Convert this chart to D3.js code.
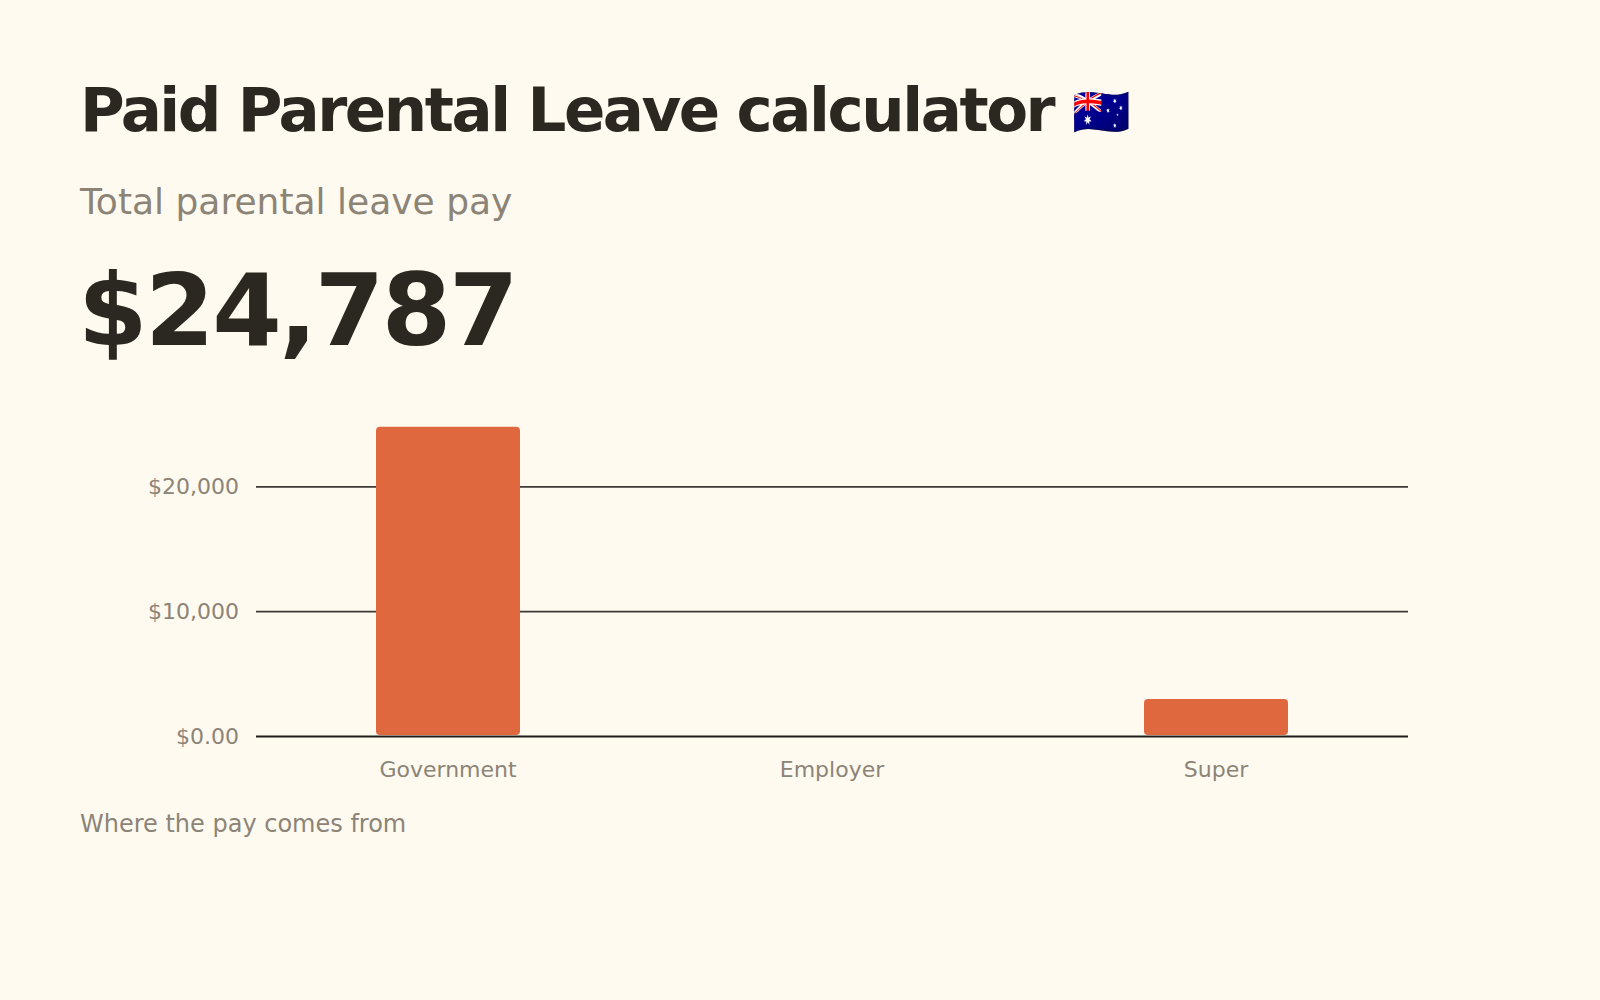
<!DOCTYPE html>
<html>
<head>
<meta charset="utf-8">
<script src="https://cdn.jsdelivr.net/npm/d3@7"></script>
<style>
  html, body { margin: 0; padding: 0; background: #fefaef; }
  body { font-family: "DejaVu Sans", sans-serif; }
</style>
</head>
<body>
<div id="chart"></div>
<script>
// 数据
const categories = ["Government", "Employer", "Super"];
const amounts = [24787, 0, 2974];
const tickValues = [0, 10000, 20000];
const tickLabels = ["$0.00", "$10,000", "$20,000"];
const totalLabel = "$24,787";

drawChart();

function drawChart() {
    const W = 1600, H = 1000;
    const data = categories.map((c, i) => ({ name: c, value: amounts[i] }));

    const svg = d3.select("#chart").append("svg")
        .attr("width", W)
        .attr("height", H)
        .style("display", "block");

    const textGrey = "#8c8477";
    const dark = "#2b2821";

    // 标题
    svg.append("text")
        .attr("x", 80)
        .attr("y", 131)
        .attr("fill", dark)
        .attr("font-size", 61)
        .attr("font-weight", "bold")
        .attr("letter-spacing", "-0.04em")
        .text("Paid Parental Leave calculator");

    svg.append("text")
        .attr("x", 1072)
        .attr("y", 128)
        .attr("font-size", 47)
        .text("🇦🇺");

    svg.append("text")
        .attr("x", 80)
        .attr("y", 214)
        .attr("fill", textGrey)
        .attr("font-size", 36)
        .text("Total parental leave pay");

    svg.append("text")
        .attr("x", 78)
        .attr("y", 345)
        .attr("fill", dark)
        .attr("font-size", 100)
        .attr("font-weight", "bold")
        .attr("letter-spacing", "-0.025em")
        .text(totalLabel);

    // 比例尺
    const x = d3.scaleBand()
        .domain(categories)
        .range([256, 1408])
        .padding(0);

    const y = d3.scaleLinear()
        .domain([0, 25000])
        .range([736, 424]);

    // Y轴网格线
    const yAxis = svg.append("g")
        .attr("transform", "translate(256,0)")
        .call(d3.axisLeft(y)
            .tickValues(tickValues)
            .tickSize(-(1408 - 256))
            .tickPadding(17)
            .tickFormat((d, i) => tickLabels[i]));
    yAxis.select(".domain").remove();
    yAxis.selectAll(".tick line")
        .attr("stroke", d => d === 0 ? "#1f1c17" : "#3e3a34")
        .attr("stroke-width", d => d === 0 ? 2 : 1.8);
    yAxis.selectAll(".tick text")
        .attr("fill", textGrey)
        .attr("font-size", 22)
        .attr("font-family", "DejaVu Sans");

    // 柱子
    const barW = x.bandwidth() * 0.375;
    svg.selectAll(".bar")
        .data(data.filter(d => d.value > 0))
        .enter().append("rect")
        .attr("class", "bar")
        .attr("x", d => x(d.name) + (x.bandwidth() - barW) / 2)
        .attr("y", d => y(d.value))
        .attr("width", barW)
        .attr("height", d => y(0) - y(d.value) - 1)
        .attr("rx", 4)
        .attr("fill", "#e0683e");

    // X轴标签
    const xAxis = svg.append("g")
        .attr("transform", `translate(0,${y(0)})`)
        .call(d3.axisBottom(x).tickSize(0).tickPadding(25));
    xAxis.select(".domain").remove();
    xAxis.selectAll(".tick text")
        .attr("fill", textGrey)
        .attr("font-size", 22)
        .attr("font-family", "DejaVu Sans");

    // 底部说明
    svg.append("text")
        .attr("x", 80)
        .attr("y", 832)
        .attr("fill", textGrey)
        .attr("font-size", 24)
        .text("Where the pay comes from");
}
</script>
</body>
</html>
